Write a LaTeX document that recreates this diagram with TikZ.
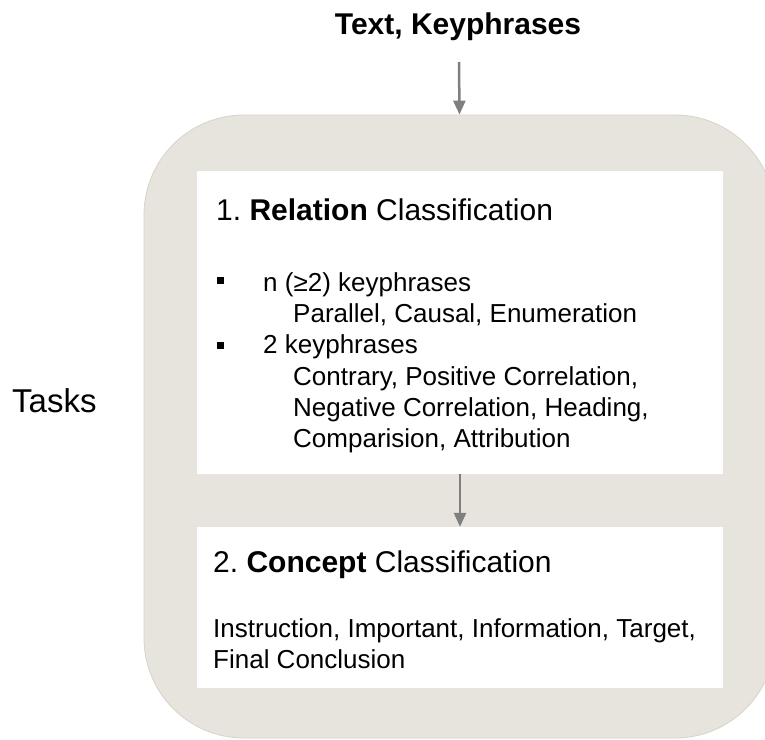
\documentclass[tikz,border=0pt]{standalone}
\usepackage{fontspec}
\setmainfont{Liberation Sans}
\usetikzlibrary{arrows.meta}
\frenchspacing

\definecolor{panel}{RGB}{231,228,221}
\definecolor{panelEdge}{RGB}{214,211,200}
\definecolor{arrowGray}{RGB}{127,127,127}

\tikzset{
  panelbox/.style={draw=panelEdge, fill=panel, line width=0.8pt,
    rounded corners=100pt, inner sep=0pt},
  whitebox/.style={fill=white, inner sep=0pt},
  flow/.style={draw=arrowGray, line width=2.5pt,
    -{Triangle[length=14pt,width=12pt]}},
  body/.style={anchor=base west, inner sep=0pt,
    font=\fontsize{26}{31}\selectfont},
  heading/.style={anchor=base west, inner sep=0pt,
    font=\fontsize{30}{36}\selectfont},
  bulletmark/.style={fill=black, inner sep=0pt,
    minimum width=7pt, minimum height=7pt},
}

\begin{document}
\begin{tikzpicture}[x=1pt,y=-1pt]
  \useasboundingbox (0,0) rectangle (765,739);

  % input label and the panel holding both tasks
  \node[anchor=base, inner sep=0pt, font=\fontsize{30}{36}\selectfont\bfseries]
    (inputText) at (458,34) {Text, Keyphrases};
  \node[panelbox, minimum width=631pt, minimum height=623pt]
    (tasksPanel) at (459.5,426.5) {};
  \node[anchor=base west, inner sep=0pt, font=\fontsize{33}{40}\selectfont]
    (tasksLabel) at (12,412) {Tasks};

  % task boxes
  \node[whitebox, minimum width=526pt, minimum height=303pt]
    (relBox) at (460,322.5) {};
  \node[whitebox, minimum width=526pt, minimum height=161pt]
    (conBox) at (460,607.5) {};

  % relation classification
  \node[heading] (relTitle) at (216,220) {1. \textbf{Relation} Classification};
  \node[bulletmark] (bulletA) at (220,280) {};
  \node[body] (multiHead) at (263,291) {n (≥2) keyphrases};
  \node[body] (multiList) at (293,322) {Parallel, Causal, Enumeration};
  \node[bulletmark] (bulletB) at (220,345) {};
  \node[body] (pairHead) at (263,353) {2 keyphrases};
  \node[body] (pairListA) at (293,385) {Contrary, Positive Correlation,};
  \node[body] (pairListB) at (293,416) {Negative Correlation, Heading,};
  \node[body] (pairListC) at (293,447) {Comparision, Attribution};

  % concept classification
  \node[heading] (conTitle) at (213,572) {2. \textbf{Concept} Classification};
  \node[body] (conListA) at (213,637) {Instruction, Important, Information, Target,};
  \node[body] (conListB) at (213,668) {Final Conclusion};

  % connectors
  \coordinate (inputEnd) at (459,62);
  \draw[flow] (inputEnd) -- (tasksPanel.north);
  \draw[flow] (relBox.south) -- (conBox.north);
\end{tikzpicture}
\end{document}
